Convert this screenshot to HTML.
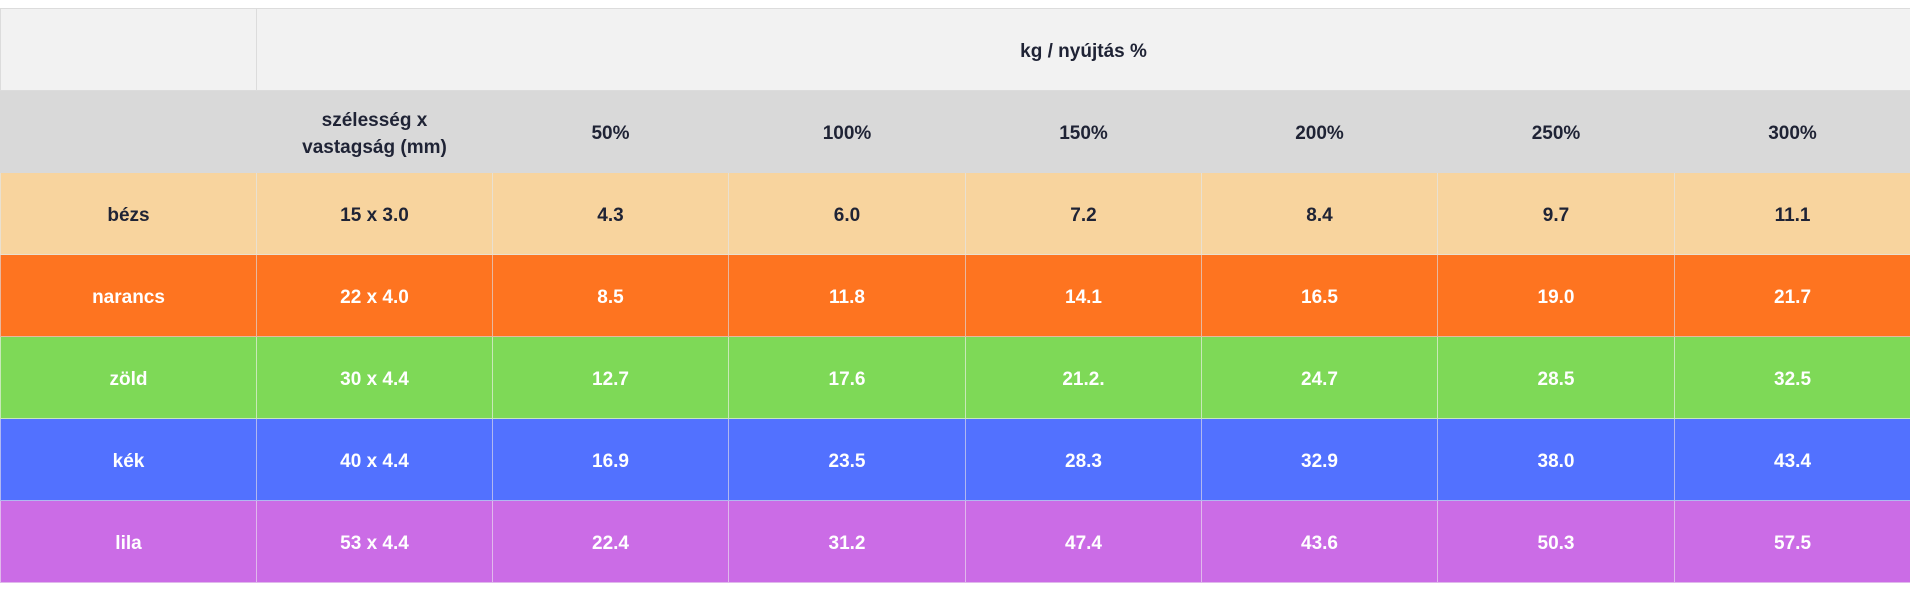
<!DOCTYPE html>
<html><head><meta charset="utf-8"><style>
body{margin:0;width:1910px;height:600px;background:#fff;overflow:hidden}
table{position:absolute;left:0;top:8px;width:1910px;border-collapse:collapse;table-layout:fixed;font-family:"Liberation Sans",sans-serif;font-weight:bold;font-size:19px;color:#1f2335}
td{border:1px solid #dcdcdc;text-align:center;vertical-align:middle;height:81px;padding:0;line-height:27px}
td span{position:relative;top:2px}
tr.h1 td{background:#f2f2f2}
tr.h2 td{background:#d9d9d9;border-color:#d9d9d9}
tr.b td{background:#f8d49e;border-color:#e9e0d0}
tr.n td{background:#fe7420;color:#fff;border-color:#e8b8a0}
tr.z td{background:#7ed957;color:#fff;border-color:#c8e8b8}
tr.k td{background:#5271ff;color:#fff;border-color:#b0b8f0}
tr.l td{background:#cb6ce6;color:#fff;border-color:#e0b8ec}
</style></head><body>
<table>
<colgroup><col style="width:256px"><col style="width:236px"><col style="width:236px"><col style="width:237px"><col style="width:236px"><col style="width:236px"><col style="width:237px"><col style="width:236px"></colgroup>
<tr class="h1"><td></td><td colspan="7"><span>kg / nyújtás %</span></td></tr>
<tr class="h2"><td></td><td><span>szélesség x<br>vastagság (mm)</span></td><td><span>50%</span></td><td><span>100%</span></td><td><span>150%</span></td><td><span>200%</span></td><td><span>250%</span></td><td><span>300%</span></td></tr>
<tr class="b"><td><span>bézs</span></td><td><span>15 x 3.0</span></td><td><span>4.3</span></td><td><span>6.0</span></td><td><span>7.2</span></td><td><span>8.4</span></td><td><span>9.7</span></td><td><span>11.1</span></td></tr>
<tr class="n"><td><span>narancs</span></td><td><span>22 x 4.0</span></td><td><span>8.5</span></td><td><span>11.8</span></td><td><span>14.1</span></td><td><span>16.5</span></td><td><span>19.0</span></td><td><span>21.7</span></td></tr>
<tr class="z"><td><span>zöld</span></td><td><span>30 x 4.4</span></td><td><span>12.7</span></td><td><span>17.6</span></td><td><span>21.2.</span></td><td><span>24.7</span></td><td><span>28.5</span></td><td><span>32.5</span></td></tr>
<tr class="k"><td><span>kék</span></td><td><span>40 x 4.4</span></td><td><span>16.9</span></td><td><span>23.5</span></td><td><span>28.3</span></td><td><span>32.9</span></td><td><span>38.0</span></td><td><span>43.4</span></td></tr>
<tr class="l"><td><span>lila</span></td><td><span>53 x 4.4</span></td><td><span>22.4</span></td><td><span>31.2</span></td><td><span>47.4</span></td><td><span>43.6</span></td><td><span>50.3</span></td><td><span>57.5</span></td></tr>
</table>
</body></html>
